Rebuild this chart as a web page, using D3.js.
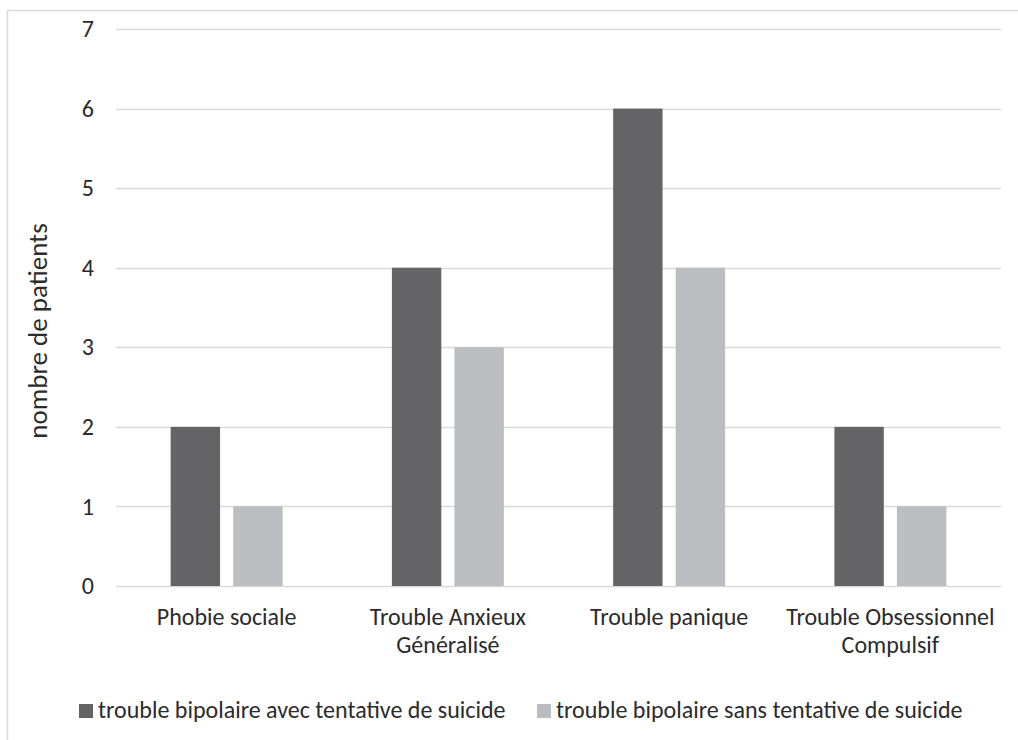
<!DOCTYPE html>
<html>
<head>
<meta charset="utf-8">
<script src="https://cdn.jsdelivr.net/npm/d3@7"></script>
<style>
  body { margin: 0; background: #fff; }
  text { font-family: Carlito, Lato, "Open Sans", sans-serif; fill: #2b2b2b; }
</style>
</head>
<body>
<script>
const svgWidth = 1018
const svgHeight = 740

const categories = [
  ["Phobie sociale"],
  ["Trouble Anxieux", "Généralisé"],
  ["Trouble panique"],
  ["Trouble Obsessionnel", "Compulsif"]
]
const seriesNames = [
  "trouble bipolaire avec tentative de suicide",
  "trouble bipolaire sans tentative de suicide"
]
const withAttempt = [2, 4, 6, 2]
const withoutAttempt = [1, 3, 4, 1]
const yTicks = [0, 1, 2, 3, 4, 5, 6, 7]
const colors = ["#646466", "#bcbdc0"]

const margin = { top: 29, right: 17, bottom: 154, left: 116 }
const chartWidth = svgWidth - margin.left - margin.right
const chartHeight = svgHeight - margin.top - margin.bottom

const svg = d3.select("body").append("svg")
  .attr("width", svgWidth)
  .attr("height", svgHeight)

// outer frame (only top and left edges visible)
svg.append("path")
  .attr("d", `M7.5,${svgHeight} V10.5 H${svgWidth}`)
  .attr("fill", "none")
  .attr("stroke", "#d9d9d9")
  .attr("stroke-width", 1.5)

const chartG = svg.append("g")
  .attr("transform", `translate(${margin.left}, ${margin.top})`)

const y = d3.scaleLinear()
  .domain([0, 7])
  .range([chartHeight, 0])

const x0 = d3.scaleBand()
  .domain(d3.range(categories.length))
  .range([0, chartWidth])
  .paddingInner(0.494)
  .paddingOuter(0.247)

const x1 = d3.scaleBand()
  .domain([0, 1])
  .range([0, x0.bandwidth()])
  .paddingInner(0.21)

// gridlines
chartG.append("g")
  .selectAll("line")
  .data(yTicks)
  .enter()
  .append("line")
  .attr("x1", 0)
  .attr("x2", chartWidth)
  .attr("y1", d => Math.round(y(d)) + 0.5)
  .attr("y2", d => Math.round(y(d)) + 0.5)
  .attr("stroke", "#d9d9d9")
  .attr("stroke-width", 1.5)

// y axis labels
const yAxis = d3.axisLeft(y).tickValues(yTicks).tickFormat(d3.format("d")).tickSize(0).tickPadding(22)
chartG.append("g")
  .call(yAxis)
  .call(g => g.select(".domain").remove())
  .attr("font-family", null)
  .attr("font-size", null)
  .selectAll("text")
  .attr("font-size", 24)

const series = [withAttempt, withoutAttempt]
const groups = chartG.append("g")
  .selectAll("g")
  .data(categories.map((c, i) => i))
  .enter()
  .append("g")
  .attr("transform", i => `translate(${x0(i)}, 0)`)

groups.selectAll("rect")
  .data(i => series.map((s, k) => ({ k, v: s[i] })))
  .enter()
  .append("rect")
  .attr("x", d => x1(d.k))
  .attr("width", x1.bandwidth())
  .attr("y", d => y(d.v))
  .attr("height", d => y(0) - y(d.v))
  .attr("fill", d => colors[d.k])

// category labels
const catLabels = chartG.append("g")
  .selectAll("text")
  .data(categories)
  .enter()
  .append("text")
  .attr("text-anchor", "middle")
  .attr("font-size", 24)
  .attr("transform", (d, i) => `translate(${x0(i) + x0.bandwidth() / 2}, ${chartHeight + 39})`)

catLabels.selectAll("tspan")
  .data(d => d)
  .enter()
  .append("tspan")
  .attr("x", 0)
  .attr("dy", (d, i) => i === 0 ? 0 : 28)
  .text(d => d)

// y axis title
svg.append("text")
  .attr("transform", "translate(47, 331) rotate(-90)")
  .attr("text-anchor", "middle")
  .attr("font-size", 27)
  .text("nombre de patients")

// legend
const legendX = [79, 537]
const legend = svg.append("g")
  .selectAll("g")
  .data(seriesNames)
  .enter()
  .append("g")
  .attr("transform", (d, i) => `translate(${legendX[i]}, 704)`)

legend.append("rect")
  .attr("width", 14)
  .attr("height", 14)
  .attr("fill", (d, i) => colors[i])

legend.append("text")
  .attr("x", 19)
  .attr("y", 14)
  .attr("font-size", 24)
  .text(d => d)
</script>
</body>
</html>
